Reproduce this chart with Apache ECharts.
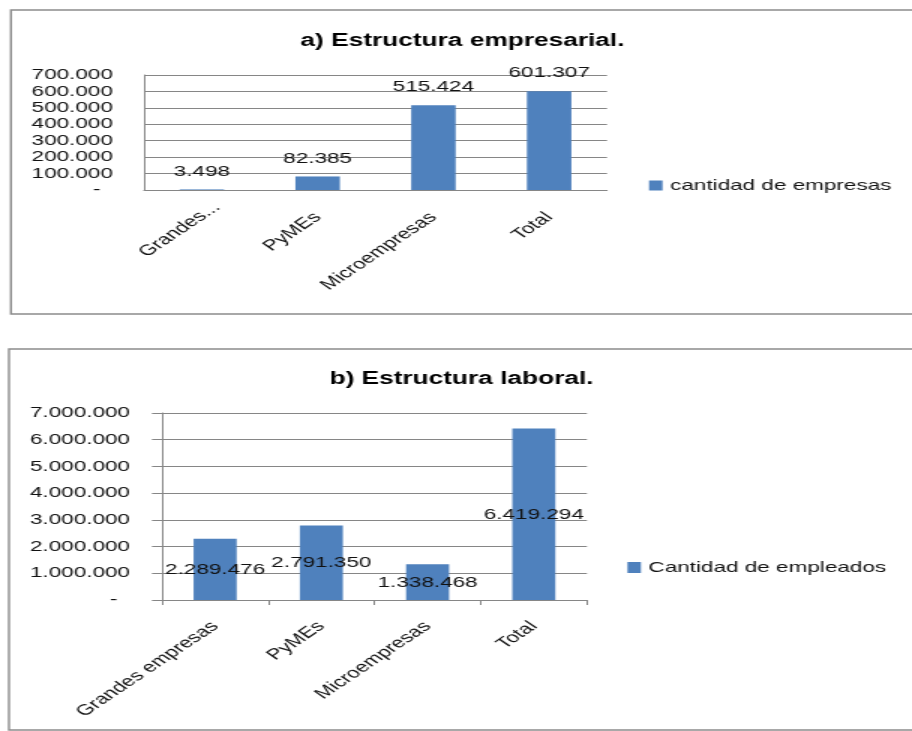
<!DOCTYPE html>
<html>
<head>
<meta charset="utf-8">
<script src="https://cdn.jsdelivr.net/npm/echarts@6/dist/echarts.min.js"></script>
<style>
    html, body { margin: 0; padding: 0; background: #fff; overflow: hidden; }
    /* la imagen original esta estirada en horizontal */
    #grafico { width: 608px; height: 731px; transform: scaleX(1.5); transform-origin: 0 0; }
</style>
</head>
<body>
<div id="grafico"></div>
<script>
// a) Estructura empresarial
const categoriasEmpresas = ['Grandes...', 'PyMEs', 'Microempresas', 'Total'];
const cantidadEmpresas = [3498, 82385, 515424, 601307];
const ticksEmpresas = [0, 100000, 200000, 300000, 400000, 500000, 600000, 700000];

// b) Estructura laboral
const categoriasEmpleo = ['Grandes empresas', 'PyMEs', 'Microempresas', 'Total'];
const cantidadEmpleados = [2289476, 2791350, 1338468, 6419294];
const ticksEmpleo = [0, 1000000, 2000000, 3000000, 4000000, 5000000, 6000000, 7000000];

// altura (px sobre el eje) de las etiquetas movidas a mano en el grafico b
const alturaEtiquetasEmpleo = [30, 37, 17, 85];

const AZUL = '#4F81BD';
const GRIS = '#868686';
const TEXTO = '#111';
const FUENTE = 'Liberation Sans';

const formatoMiles = (v) => v === 0 ? '-  ' : String(v).replace(/\B(?=(\d{3})+(?!\d))/g, '.');

const ejeValor = (ticks, margen, conTicks) => ({
    type: 'value',
    min: ticks[0],
    max: ticks[ticks.length - 1],
    interval: ticks[1] - ticks[0],
    axisLine: { show: true, lineStyle: { color: GRIS, width: 1 } },
    axisTick: { show: conTicks, length: 6.7, lineStyle: { color: GRIS } },
    splitLine: { show: true, lineStyle: { color: GRIS, width: 1 } },
    axisLabel: {
        margin: margen,
        fontSize: 15,
        fontFamily: FUENTE,
        color: TEXTO,
        formatter: formatoMiles
    }
});

const ejeCategoria = (categorias, conTicks, margen) => ({
    type: 'category',
    // la etiqueta recortada de Excel queda algo mas a la derecha
    data: categorias.map(c => c.endsWith('...')
        ? { value: c, textStyle: { padding: [0, -14, 0, 0] } }
        : c),
    axisLine: { show: true, lineStyle: { color: GRIS, width: 1 } },
    axisTick: { show: conTicks, length: 5, lineStyle: { color: GRIS } },
    axisLabel: {
        interval: 0,
        rotate: 45,
        margin: margen,
        fontSize: 15,
        fontFamily: FUENTE,
        color: TEXTO
    }
});

const chart = echarts.init(document.getElementById('grafico'), null, { renderer: 'canvas' });

chart.setOption({
    animation: false,
    textStyle: { fontFamily: FUENTE },
    title: [{
        text: 'a) Estructura empresarial.',
        left: 308.3,
        top: 41,
        padding: 0,
        textAlign: 'center',
        textVerticalAlign: 'middle',
        textStyle: { fontSize: 17.5, fontWeight: 'bold', color: '#000', fontFamily: FUENTE }
    }, {
        text: 'b) Estructura laboral.',
        left: 307.7,
        top: 379,
        padding: 0,
        textAlign: 'center',
        textVerticalAlign: 'middle',
        textStyle: { fontSize: 17.5, fontWeight: 'bold', color: '#000', fontFamily: FUENTE }
    }],
    legend: [{
        data: ['cantidad de empresas'],
        left: 432.7,
        top: 178,
        padding: 0,
        icon: 'rect',
        itemWidth: 9,
        itemHeight: 10,
        textStyle: { fontSize: 15, color: TEXTO, fontFamily: FUENTE }
    }, {
        data: ['Cantidad de empleados'],
        left: 418.3,
        top: 560,
        padding: 0,
        icon: 'rect',
        itemWidth: 9,
        itemHeight: 11,
        textStyle: { fontSize: 15, color: TEXTO, fontFamily: FUENTE }
    }],
    grid: [
        { left: 96, top: 75, width: 308.7, height: 115, containLabel: false },
        { left: 108, top: 413, width: 283.3, height: 187, containLabel: false }
    ],
    xAxis: [
        { gridIndex: 0, ...ejeCategoria(categoriasEmpresas, false, 25) },
        { gridIndex: 1, ...ejeCategoria(categoriasEmpleo, true, 24) }
    ],
    yAxis: [
        { gridIndex: 0, ...ejeValor(ticksEmpresas, 20.7, false) },
        { gridIndex: 1, ...ejeValor(ticksEmpleo, 21.3, true) }
    ],
    graphic: [{
        type: 'rect',
        silent: true,
        z: -1,
        shape: { x: 7.3, y: 10, width: 700, height: 304 },
        style: { fill: 'none', stroke: '#8c8c8c', lineWidth: 1.4 }
    }, {
        type: 'rect',
        silent: true,
        z: -1,
        shape: { x: 6, y: 349, width: 700, height: 381 },
        style: { fill: 'none', stroke: '#8c8c8c', lineWidth: 1.4 }
    }],
    series: [{
        name: 'cantidad de empresas',
        type: 'bar',
        xAxisIndex: 0,
        yAxisIndex: 0,
        barWidth: '38.4%',
        itemStyle: { color: AZUL },
        label: {
            show: true,
            position: 'top',
            distance: 18,
            verticalAlign: 'middle',
            fontSize: 15,
            fontFamily: FUENTE,
            color: TEXTO,
            formatter: (p) => formatoMiles(p.value)
        },
        data: cantidadEmpresas
    }, {
        name: 'Cantidad de empleados',
        type: 'bar',
        xAxisIndex: 1,
        yAxisIndex: 1,
        barWidth: '40.5%',
        itemStyle: { color: AZUL },
        label: {
            show: true,
            position: 'insideBottom',
            distance: 0,
            verticalAlign: 'middle',
            fontSize: 15,
            fontFamily: FUENTE,
            color: TEXTO,
            formatter: (p) => formatoMiles(p.value)
        },
        data: cantidadEmpleados.map((v, i) => ({
            value: v,
            label: { offset: [0, -alturaEtiquetasEmpleo[i]] }
        }))
    }]
});
</script>
</body>
</html>
